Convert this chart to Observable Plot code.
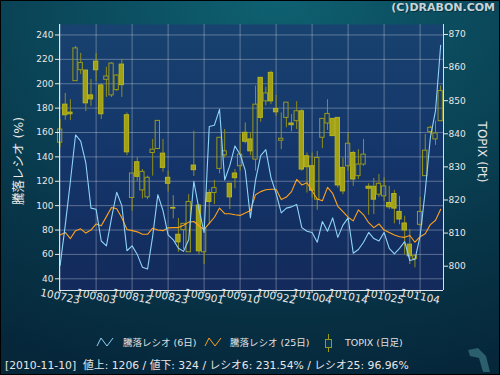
<!DOCTYPE html>
<html><head><meta charset="utf-8">
<script src="https://cdn.jsdelivr.net/npm/d3@7"></script>
<script src="https://cdn.jsdelivr.net/npm/@observablehq/plot@0.6"></script>
<style>
html,body{margin:0;padding:0;background:#000;}
#wrap{position:relative;width:500px;height:375px;overflow:hidden;
 background: radial-gradient(ellipse 115% 105% at 55% 0%, #0e6171 0%, #0b4c5e 32%, #083649 68%, #06263a 100%);
 box-shadow: inset 0 0 0 1px #000;
 font-family:"DejaVu Sans","Noto Sans CJK JP",sans-serif;color:#e6e6e6;}
#chart{position:absolute;left:0;top:0;}
.abs{position:absolute;white-space:nowrap;line-height:1;}
#copy{right:5px;top:2px;font-weight:bold;font-size:11px;color:#c9d3d7;text-shadow:1px 1px 0 #04343f;}
#ylab{left:19px;top:161px;font-size:12.5px;transform:translate(-50%,-50%) rotate(-90deg);color:#e8e8e8;}
#y2lab{left:482px;top:152px;font-size:12px;transform:translate(-50%,-50%) rotate(90deg);color:#e8e8e8;}
.lg{top:343px;transform:translateY(-50%);font-size:9.5px;color:#e0e0e0;}
#status{left:5px;top:366px;transform:translateY(-50%);font-size:10.8px;color:#e6e6e6;}
</style></head>
<body>
<div id="wrap">
  <div id="chart"></div>
  <div class="abs" id="copy">(C)DRABON.COM</div>
  <div class="abs" id="ylab">騰落レシオ (%)</div>
  <div class="abs" id="y2lab">TOPIX (Pt)</div>
  <svg class="abs" style="left:96px;top:337px" width="18" height="10"><polyline points="1,9 5,1 11,9 17,1" fill="none" stroke="#8fd3f7" stroke-width="1"/></svg>
  <div class="abs lg" style="left:123px">騰落レシオ (6日)</div>
  <svg class="abs" style="left:204px;top:337px" width="18" height="10"><polyline points="1,9 5,1 11,9 17,1" fill="none" stroke="#ffa21a" stroke-width="1"/></svg>
  <div class="abs lg" style="left:230px">騰落レシオ (25日)</div>
  <svg class="abs" style="left:324px;top:334px" width="10" height="19"><line x1="4.5" y1="0" x2="4.5" y2="18" stroke="#9a9818"/><rect x="1.5" y="5.5" width="6" height="8" fill="#0a3346" stroke="#9a9818"/></svg>
  <div class="abs lg" style="left:345px">TOPIX (日足)</div>
  <div class="abs" id="status">[2010-11-10]&nbsp; 値上: 1206 / 値下: 324 / レシオ6: 231.54% / レシオ25: 96.96%</div>
  <svg class="abs" style="left:466px;top:346px" width="28" height="28"><polygon points="2,4 12,2 17,7 20,10 24,26 17,26 13,12 4,10" fill="#2b5f6e"/></svg>
</div>
<script>
// ---- data ----
const dates = ["100723","100726","100727","100728","100729","100730",
 "100802","100803","100804","100805","100806","100809","100810","100811","100812","100813","100816","100817","100818","100819","100820","100823","100824","100825","100826","100827","100830","100831",
 "100901","100902","100903","100906","100907","100908","100909","100910","100913","100914","100915","100916","100917","100921","100922","100924","100927","100928","100929","100930",
 "101001","101004","101005","101006","101007","101008","101012","101013","101014","101015","101018","101019","101020","101021","101022","101025","101026","101027","101028","101029",
 "101101","101102","101104","101105","101108","101109","101110"];
const open  = [837.3,848.8,846.4,855.9,859.2,859.1,851.6,861.8,854.6,856.3,851.6,853.2,860.9,845.6,820.6,831.4,822.9,820.8,834.2,835.4,834.0,826.7,817.6,809.5,810.9,804.2,830.4,818.3,804.2,822.1,822.1,829.4,833.5,824.9,828.0,830.2,840.3,838.3,832.2,856.9,849.8,858.4,847.5,837.9,844.8,843.1,843.8,846.8,833.2,830.2,820.1,838.8,843.1,844.5,844.8,829.7,830.2,834.2,827.2,830.7,824.0,824.0,821.6,821.1,819.1,821.8,816.4,812.9,806.5,802.2,812.5,827.2,840.5,838.3,843.8];
const high  = [844.3,852.2,850.3,866.4,864.3,859.1,856.4,864.3,855.1,860.1,861.5,857.9,862.5,846.3,828.0,832.9,829.2,827.2,838.3,844.0,838.3,828.7,821.3,814.4,812.8,821.6,840.8,818.6,811.2,823.1,825.9,838.9,841.3,825.0,829.2,839.8,843.3,840.3,854.4,856.9,854.1,858.9,851.6,846.3,849.4,845.8,849.7,847.3,834.2,834.2,834.7,844.5,850.3,844.6,844.8,832.7,840.3,834.7,835.2,838.3,824.9,826.5,827.7,826.7,824.1,822.9,821.1,815.1,811.0,803.5,820.8,839.8,842.3,843.8,854.4];
const low   = [835.9,844.1,844.0,855.9,857.9,846.7,848.3,855.8,844.3,851.0,851.0,852.8,851.0,833.4,816.6,825.6,820.3,820.1,827.2,835.2,828.4,822.4,814.3,804.2,805.0,804.2,827.1,803.5,800.5,812.5,818.6,827.9,832.7,817.1,823.4,828.7,837.0,833.4,828.7,843.5,848.5,848.8,845.3,835.2,841.8,840.6,841.3,828.7,822.1,820.6,816.9,835.5,841.0,839.2,823.6,821.6,828.7,824.1,826.2,830.2,815.4,815.6,820.8,819.6,817.1,812.8,812.5,803.5,800.5,799.5,812.0,827.2,839.8,836.5,843.8];
const close = [841.3,845.6,845.9,865.8,861.4,849.2,850.4,859.2,845.9,857.3,861.2,857.6,854.7,834.4,828.0,827.0,828.5,826.7,835.2,843.9,829.7,824.9,817.4,807.2,812.8,819.4,829.0,804.5,811.2,819.4,823.6,838.8,834.7,820.8,826.6,833.7,837.6,834.7,848.8,844.8,852.2,849.8,846.5,838.5,849.4,842.6,846.8,829.2,829.9,822.8,832.7,844.5,846.0,839.3,824.4,822.6,837.0,826.2,830.7,833.7,823.4,820.1,824.9,824.1,817.8,817.4,814.1,810.8,803.0,803.0,816.4,834.9,841.8,840.1,852.9];
const ratio6  = [51,84,120,158,153,135,98,97,71,67,90,111,100,63,67,60,49.5,48,75,109,96,76,72,65,62.5,72,120,97,78,165,166,179,121,133,149,142,129,90,121,141,146,123,110,94,98,99,101,82,79,78,70,87,79,90,74,84,90,61,64,70,78,73,71,78,65,60.5,65,70.5,55,56,75,112,156,178,231.54];
const ratio25 = [76,78,73,79.5,81,77.5,80,85,83.5,91,98.5,97.5,90,80.5,79.5,78.5,76.5,76.5,81.5,80,79.5,81.8,82,82,84,86.5,87,83.5,80.5,85.5,90.5,98,93.5,93.3,92.5,92,94,96,109,111.5,113,113.5,113.5,105,107,111.5,121.5,117,118.8,112,105.5,104,115,110,99.5,95,90.5,87.5,96.5,92.5,86,82,85,80,78,76,74.5,74,75.5,70,74.5,77,84.5,88,96.96];
const xTickIndex = [0,7,14,21,28,35,42,49,56,63,70];
const xTickLabels = ["100723","100803","100812","100823","100901","100910","100922","101004","101014","101025","101104"];
const leftTicks = [40,60,80,100,120,140,160,180,200,220,240];
const rightTicks = [800,810,820,830,840,850,860,870];

// TOPIX (right axis) expressed in left-axis units
const toL = t => 50.34 + (t - 800) * 2.7153;
const fromL = v => 800 + (v - 50.34) / 2.7153;

const rows = dates.map((d, i) => ({i, d, o: open[i], h: high[i], l: low[i], c: close[i], r6: ratio6[i], r25: ratio25[i]}));
const ups = rows.filter(r => r.c >= r.o);
const downs = rows.filter(r => r.c < r.o);
const xDom = [-0.12, 74.55], yDom = [30.4, 248.6];
const hw = 0.42;

const chart = Plot.plot({
  width: 500, height: 375,
  marginLeft: 59, marginRight: 57, marginTop: 24, marginBottom: 85,
  style: {background: "transparent", color: "#e8e8e8", fontFamily: "DejaVu Sans, sans-serif", fontSize: "9px", overflow: "visible"},
  x: {domain: xDom},
  y: {domain: yDom},
  marks: [
    Plot.frame({fill: "#15366a", stroke: null}),
    Plot.gridY(leftTicks, {stroke: "#ffffff", strokeOpacity: 0.3}),
    Plot.gridX(xTickIndex, {stroke: "#ffffff", strokeOpacity: 0.3}),
    Plot.ruleX(rows, {x: "i", y1: r => toL(r.h), y2: r => toL(Math.max(r.o, r.c)), stroke: "#908e1a"}),
    Plot.ruleX(rows, {x: "i", y1: r => toL(Math.min(r.o, r.c)), y2: r => toL(r.l), stroke: "#908e1a"}),
    Plot.rect(downs, {x1: r => r.i - hw, x2: r => r.i + hw, y1: r => toL(r.o), y2: r => toL(r.c), fill: "#a2a014", stroke: "#b8b621"}),
    Plot.rect(ups, {x1: r => r.i - hw, x2: r => r.i + hw, y1: r => toL(r.o), y2: r => toL(r.c), fill: "none", stroke: "#9b991b"}),
    Plot.line(rows, {x: "i", y: "r25", stroke: "#ffa21a", strokeWidth: 1.1}),
    Plot.line(rows, {x: "i", y: "r6", stroke: "#8fd3f7", strokeWidth: 1.1}),
    Plot.ruleX([xDom[0]], {stroke: "#dfe6ee"}),
    Plot.ruleX([xDom[1]], {stroke: "#cfe2f2"}),
    Plot.ruleY([yDom[0]], {stroke: "#dfe6ee"}),
    Plot.axisY(leftTicks, {anchor: "left", tickSize: 4, tickPadding: 2, fontSize: 9, label: null, color: "#e8e8e8"}),
    Plot.axisY(rightTicks.map(toL), {anchor: "right", tickSize: 4, tickPadding: 1, fontSize: 9, label: null, color: "#e8e8e8", tickFormat: v => String(Math.round(fromL(v)))}),
    Plot.axisX(xTickIndex, {anchor: "bottom", tickSize: 3, tickPadding: 3, tickRotate: 12, textAnchor: "middle", fontSize: 10.5, label: null, color: "#e8e8e8", tickFormat: d => xTickLabels[xTickIndex.indexOf(d)]})
  ]
});

// plot-area gradient
const svg = d3.select(chart);
const defs = svg.insert("defs", ":first-child");
const lg = defs.append("linearGradient").attr("id", "pbg").attr("x1", 0).attr("y1", 0).attr("x2", 0).attr("y2", 1);
lg.append("stop").attr("offset", "0%").attr("stop-color", "#18426f");
lg.append("stop").attr("offset", "50%").attr("stop-color", "#14356a");
lg.append("stop").attr("offset", "100%").attr("stop-color", "#132a5b");
const fr = chart.querySelector('[aria-label="frame"]');
if (fr) { const r = fr.tagName.toLowerCase() === "rect" ? fr : fr.querySelector("rect"); if (r) r.setAttribute("fill", "url(#pbg)"); }

document.getElementById("chart").appendChild(chart);
</script>
</body></html>
